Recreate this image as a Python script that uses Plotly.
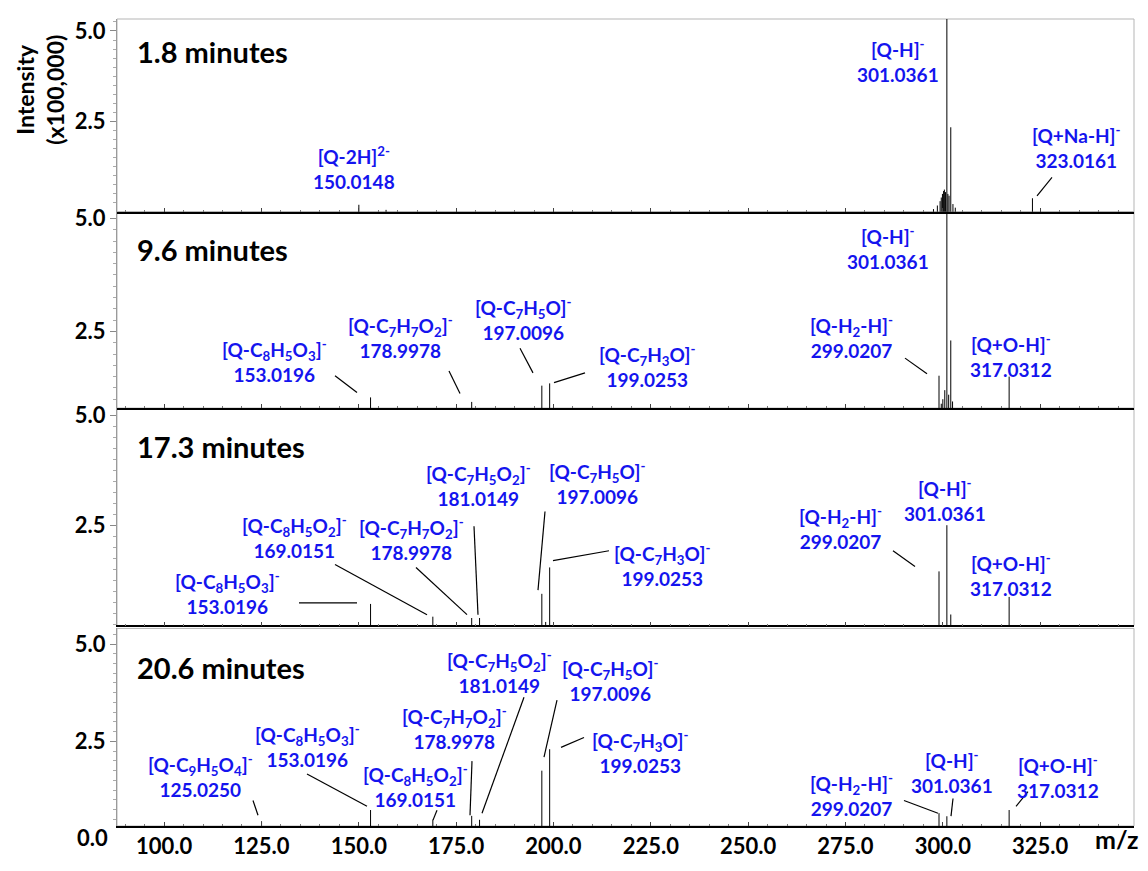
import plotly.graph_objects as go

# ---------------- data (m/z, intensity x100,000) ----------------
ION = {
    125.0250: "[Q-C<sub>9</sub>H<sub>5</sub>O<sub>4</sub>]<sup>-</sup>",
    150.0148: "[Q-2H]<sup>2-</sup>",
    153.0196: "[Q-C<sub>8</sub>H<sub>5</sub>O<sub>3</sub>]<sup>-</sup>",
    169.0151: "[Q-C<sub>8</sub>H<sub>5</sub>O<sub>2</sub>]<sup>-</sup>",
    178.9978: "[Q-C<sub>7</sub>H<sub>7</sub>O<sub>2</sub>]<sup>-</sup>",
    181.0149: "[Q-C<sub>7</sub>H<sub>5</sub>O<sub>2</sub>]<sup>-</sup>",
    197.0096: "[Q-C<sub>7</sub>H<sub>5</sub>O]<sup>-</sup>",
    199.0253: "[Q-C<sub>7</sub>H<sub>3</sub>O]<sup>-</sup>",
    299.0207: "[Q-H<sub>2</sub>-H]<sup>-</sup>",
    301.0361: "[Q-H]<sup>-</sup>",
    317.0312: "[Q+O-H]<sup>-</sup>",
    323.0161: "[Q+Na-H]<sup>-</sup>",
}

times = ["1.8 minutes", "9.6 minutes", "17.3 minutes", "20.6 minutes"]

mz_1 = [150.0148, 157.0, 297.6, 298.6, 299.3, 299.6, 299.9, 300.2, 300.4, 300.7, 301.0361, 301.3, 301.6, 302.04, 302.6, 303.2, 323.0161]
in_1 = [0.20, 0.06, 0.08, 0.18, 0.30, 0.40, 0.50, 0.58, 0.62, 0.55, 5.60, 0.50, 0.45, 2.34, 0.22, 0.12, 0.38]

mz_2 = [153.0196, 178.9978, 197.0096, 199.0253, 299.0207, 299.6, 300.0, 300.5, 301.0361, 301.5, 302.04, 302.5, 317.0312]
in_2 = [1.04, 0.94, 1.30, 1.35, 1.52, 0.90, 1.00, 1.20, 5.60, 1.10, 2.30, 0.95, 1.50]

mz_3 = [153.0196, 169.0151, 178.9978, 181.0149, 197.0096, 198.0, 199.0253, 299.0207, 301.0361, 302.04, 317.0312]
in_3 = [0.71, 0.42, 0.39, 0.39, 0.94, 0.30, 1.54, 1.45, 2.50, 0.47, 0.87]

mz_4 = [125.0250, 153.0196, 169.0151, 178.9978, 181.0149, 197.0096, 199.0253, 299.0207, 301.0361, 317.0312]
in_4 = [0.45, 0.74, 0.49, 0.59, 0.49, 1.75, 2.30, 0.66, 0.58, 0.74]

spectra = [(mz_1, in_1), (mz_2, in_2), (mz_3, in_3), (mz_4, in_4)]

# ---------------- layout constants ----------------
W, H = 1148, 871
L, R, T, B = 117, 1134, 12, 833           # plot area in pixels
PW, PH = R - L, B - T
def px(x):
    return (x - L) / PW
def py(y):
    return (B - y) / PH

panel_px = [(12, 208), (208, 408), (408, 629), (632, 833)]   # top, bottom pixel of each panel
y_ranges = [[0.01, 5.33], [0.80, 5.15], [0.22, 5.16], [0.33, 5.40]]
x_range = [87.9, 349.1]
title_px = [(135, 45), (135, 247), (135, 447), (135, 672)]

BLUE = "#1414ee"
FONT = "Lato"

# label anchors (panel index, m/z, centre pixel x, centre pixel y)
labels = [
    (0, 150.0148, 354, 164), (0, 301.0361, 898, 55), (0, 323.0161, 1076, 142),
    (1, 153.0196, 274, 360), (1, 178.9978, 400, 336), (1, 197.0096, 523, 317),
    (1, 199.0253, 647, 365), (1, 301.0361, 888, 245), (1, 299.0207, 851, 336),
    (1, 317.0312, 1011, 355),
    (2, 153.0196, 227, 596), (2, 169.0151, 294, 539), (2, 178.9978, 411, 541),
    (2, 181.0149, 478, 486), (2, 197.0096, 597, 484), (2, 199.0253, 662, 567),
    (2, 299.0207, 840, 530), (2, 301.0361, 945, 501), (2, 317.0312, 1011, 578),
    (3, 125.0250, 200, 782), (3, 153.0196, 307, 752), (3, 169.0151, 415, 792),
    (3, 178.9978, 454, 733), (3, 181.0149, 499, 676), (3, 197.0096, 610, 684),
    (3, 199.0253, 640, 758), (3, 299.0207, 851, 801), (3, 301.0361, 952, 778),
    (3, 317.0312, 1058, 783),
]
# leader line segments in pixels
leaders = [
    (1052, 173, 1037, 192),
    (335, 375, 357, 392), (449, 370, 460, 393), (520, 347, 533, 372), (585, 372, 554, 382), (905, 357, 927, 373),
    (299, 606, 357, 606), (335, 567, 427, 618), (416, 570, 467, 618), (474, 528, 478, 618),
    (545, 513, 538, 593), (609, 553, 553, 563), (893, 553, 915, 569),
    (253, 807, 258, 822), (307, 780, 367, 813), (437, 817, 433, 827), (472, 767, 470, 822),
    (524, 702, 482, 820), (557, 705, 544, 763), (584, 743, 561, 753), (904, 807, 938, 820),
    (953, 805, 951, 823), (1028, 798, 1016, 813),
]

fig = go.Figure()
for i, (mz, inten) in enumerate(spectra):
    xs, ys = [], []
    for m, v in zip(mz, inten):
        xs += [m, m, None]
        ys += [0, v, None]
    sfx = "" if i == 0 else str(i + 1)
    fig.add_trace(go.Scatter(x=xs, y=ys, mode="lines", line=dict(color="black", width=1),
                             xaxis="x" + sfx, yaxis="y" + sfx, showlegend=False, hoverinfo="skip"))

shapes = []
annotations = []
for i in range(4):
    sfx = "" if i == 0 else str(i + 1)
    top, bot = panel_px[i]
    fig.layout["xaxis" + sfx] = dict(
        domain=[0, 1], anchor="y" + sfx, range=x_range,
        showline=True, linecolor="black", linewidth=1.5, mirror=False,
        ticks="inside", ticklen=4, tickcolor="#444", tick0=100, dtick=25,
        minor=dict(ticks="inside", ticklen=2, dtick=5, tickcolor="#777"),
        tickformat=".1f", showticklabels=(i == 3), showgrid=False, zeroline=False,
        tickfont=dict(family=FONT, size=22, color="black", weight="bold"),
        matches=None if i == 0 else "x",
    )
    fig.layout["yaxis" + sfx] = dict(
        domain=[py(bot), py(top)], anchor="x" + sfx, range=y_ranges[i],
        showline=True, linecolor="#9a9a9a", linewidth=1,
        ticks="outside", ticklen=6, tickcolor="#888", tickmode="linear", tick0=0, dtick=2.5,
        minor=dict(ticks="outside", ticklen=3, tickmode="linear", tick0=0, dtick=0.25, tickcolor="#aaa"),
        tickformat=".1f", showgrid=False, zeroline=False,
        tickfont=dict(family=FONT, size=22, color="black", weight="bold"),
    )
    shapes.append(dict(type="rect", xref="x" + sfx + " domain", yref="y" + sfx + " domain",
                       x0=0, x1=1, y0=0, y1=1, line=dict(color="#b5b5b5", width=1), layer="below"))
    annotations.append(dict(text="<b>" + times[i] + "</b>", xref="paper", yref="paper",
                            x=px(title_px[i][0]), y=py(title_px[i][1]), xanchor="left", yanchor="middle",
                            showarrow=False, font=dict(family=FONT, size=29, color="black")))

for (p, m, cx, cy) in labels:
    annotations.append(dict(
        text="<b>" + ION[m] + "</b><br><b>" + f"{m:.4f}" + "</b>",
        xref="paper", yref="paper", x=px(cx), y=py(cy), xanchor="center", yanchor="middle",
        showarrow=False, font=dict(family=FONT, size=19, color=BLUE), align="center"))

for (x0, y0, x1, y1) in leaders:
    shapes.append(dict(type="line", xref="paper", yref="paper", x0=px(x0), y0=py(y0), x1=px(x1), y1=py(y1),
                       line=dict(color="black", width=1.2)))

annotations.append(dict(text="<b>Intensity</b><br><b>(x100,000)</b>", textangle=-90,
                        xref="paper", yref="paper", x=px(40), y=py(84), xanchor="center", yanchor="middle",
                        showarrow=False, font=dict(family=FONT, size=23, color="black")))
annotations.append(dict(text="<b>0.0</b>", xref="paper", yref="paper", x=px(110), y=py(845),
                        xanchor="right", yanchor="middle", showarrow=False,
                        font=dict(family=FONT, size=22, color="black")))
annotations.append(dict(text="<b>m/z</b>", xref="paper", yref="paper", x=px(1117), y=py(846),
                        xanchor="center", yanchor="middle", showarrow=False,
                        font=dict(family=FONT, size=25, color="black")))

fig.update_layout(width=W, height=H, margin=dict(l=L, r=W - R, t=T, b=H - B, pad=0),
                  paper_bgcolor="white", plot_bgcolor="white",
                  shapes=shapes, annotations=annotations, showlegend=False)

fig.write_html("out.html", config={"displayModeBar": False},
               post_script="document.body.style.margin='0';")
